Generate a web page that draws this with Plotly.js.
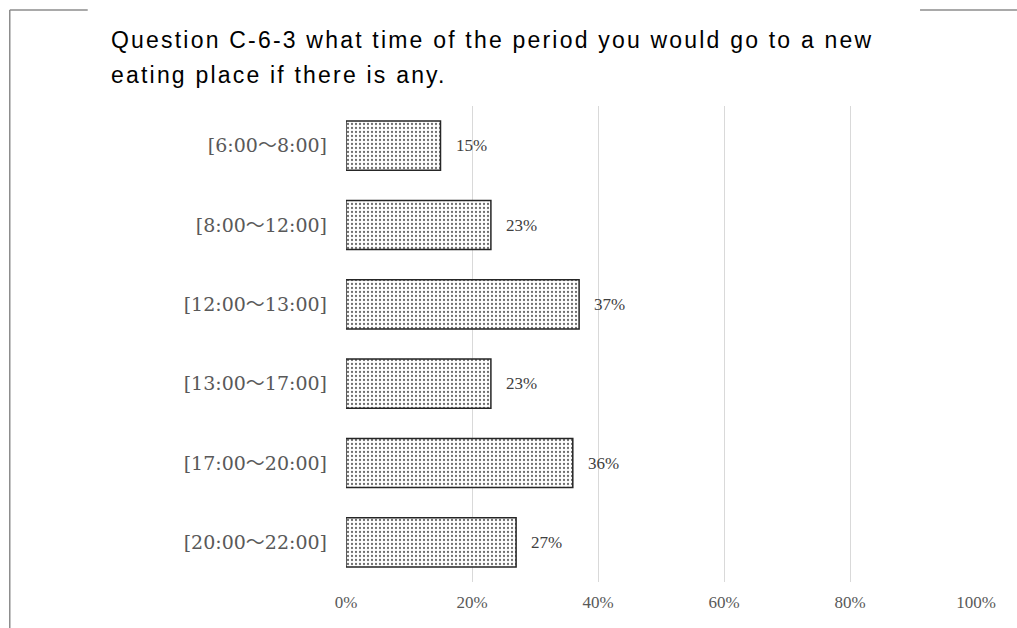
<!DOCTYPE html>
<html>
<head>
<meta charset="utf-8">
<script src="https://cdn.plot.ly/plotly-3.0.1.min.js"></script>
<style>
html,body{margin:0;padding:0;background:#fff;}
#chart{width:1017px;height:628px;}
</style>
</head>
<body>
<div id="chart"></div>
<script>
const categories = ["[6:00～8:00]", "[8:00～12:00]", "[12:00～13:00]", "[13:00～17:00]", "[17:00～20:00]", "[20:00～22:00]"];
const values = [15, 23, 37, 23, 36, 27];
const valueLabels = ["15%", "23%", "37%", "23%", "36%", "27%"];
const tickValues = [0, 20, 40, 60, 80, 100];
const tickLabels = ["0%", "20%", "40%", "60%", "80%", "100%"];
const titleLines = ["Question C-6-3 what time of the period you would go to a new", "eating place if there is any."];

const W = 1017, H = 628;
const M = {l: 345.5, r: 41, t: 106, b: 46};
const pw = W - M.l - M.r, ph = H - M.t - M.b;
const px = x => (x - M.l) / pw;
const py = y => (H - M.b - y) / ph;

const serif = "'Liberation Serif', 'Noto Serif CJK JP', 'Noto Sans CJK JP', serif";
const catFont = "'DejaVu Serif', 'Noto Sans CJK JP', serif";

const trace = {
  type: 'bar',
  orientation: 'h',
  y: categories,
  x: values,
  marker: {
    color: '#ffffff',
    pattern: {shape: '.', fgcolor: '#6e6e6e', bgcolor: '#ffffff', size: 4, solidity: 0.25},
    line: {color: '#262626', width: 1.5}
  },
  hoverinfo: 'none'
};

const annotations = values.map((v, i) => ({
  x: v, y: categories[i], xref: 'x', yref: 'y',
  text: valueLabels[i], showarrow: false, xanchor: 'left', xshift: 13,
  font: {family: serif, size: 17, color: '#404040'}
}));
titleLines.forEach((t, i) => annotations.push({
  x: px(108), y: py(i === 0 ? 40.3 : 75.3), xref: 'paper', yref: 'paper',
  text: '<span style="letter-spacing:2.2px">' + t + '</span>', showarrow: false, xanchor: 'left', yanchor: 'middle',
  font: {family: "'Liberation Sans', Arial, sans-serif", size: 23, color: '#000000'}
}));

const frame = {type: 'line', xref: 'paper', yref: 'paper', line: {color: '#8c8c8c', width: 1.5}};
const shapes = [
  Object.assign({}, frame, {x0: px(9), x1: px(9), y0: py(10), y1: py(628)}),
  Object.assign({}, frame, {x0: px(9), x1: px(87), y0: py(10), y1: py(10)}),
  Object.assign({}, frame, {x0: px(920), x1: px(1017), y0: py(10), y1: py(10)})
];

const layout = {
  width: W, height: H,
  margin: M,
  paper_bgcolor: '#ffffff', plot_bgcolor: '#ffffff',
  showlegend: false,
  bargap: 0.38,
  xaxis: {
    range: [0, 100], tickvals: tickValues, ticktext: tickLabels,
    showgrid: true, gridcolor: '#d9d9d9', gridwidth: 1, zeroline: false,
    showline: false, ticks: '', ticklabelstandoff: 8,
    tickfont: {family: serif, size: 17, color: '#595959'}, fixedrange: true
  },
  yaxis: {
    autorange: 'reversed', showgrid: false, zeroline: false, showline: false,
    ticks: '', ticklabelstandoff: 18,
    tickfont: {family: catFont, size: 19, color: '#595959'}, fixedrange: true
  },
  annotations: annotations,
  shapes: shapes
};

Plotly.newPlot('chart', [trace], layout, {displayModeBar: false, staticPlot: true});
</script>
</body>
</html>
